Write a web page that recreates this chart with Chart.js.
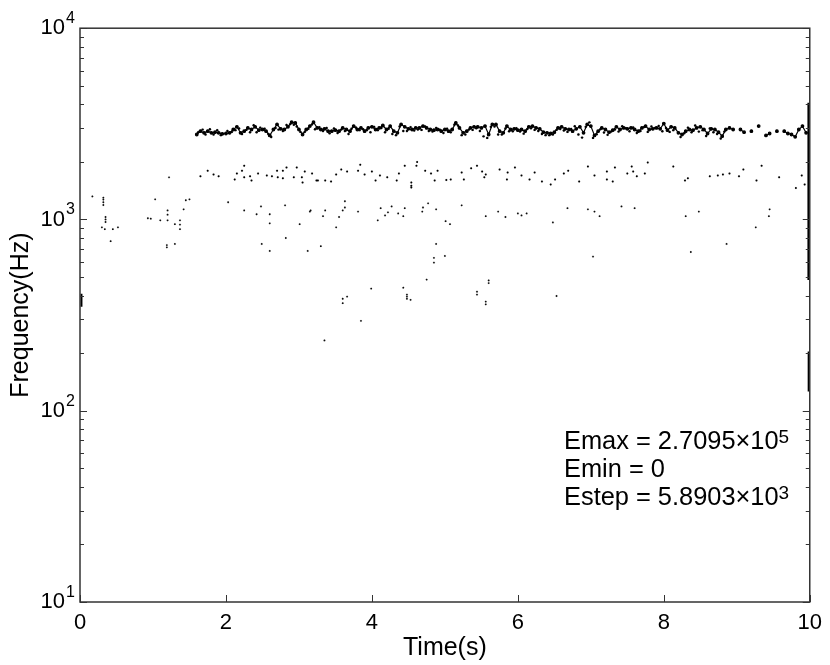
<!DOCTYPE html>
<html>
<head>
<meta charset="utf-8">
<title>Frequency contour</title>
<script src="https://cdn.jsdelivr.net/npm/chart.js@4"></script>
<style>
  body { margin: 0; background: #fff; }
  canvas { display: block; }
</style>
</head>
<body>
<canvas id="chart" width="830" height="665"></canvas>
<script>
const xTicks = [0, 2, 4, 6, 8, 10];
const yTicks = [10, 100, 1000, 10000];
const yExponents = ['1', '2', '3', '4'];
const yMinorTicks = [20, 30, 40, 50, 60, 70, 80, 90, 200, 300, 400, 500, 600, 700, 800, 900, 2000, 3000, 4000, 5000, 6000, 7000, 8000, 9000];

// main band, read every 0.05 s
const bandTimes = [
  1.60, 1.65, 1.70, 1.75, 1.80, 1.85, 1.90, 1.95, 2.00, 2.05, 2.10, 2.15, 2.20, 2.25, 2.30, 2.35, 2.40, 2.45, 2.50, 2.55, 2.60,
  2.65, 2.70, 2.75, 2.80, 2.85, 2.90, 2.95, 3.00, 3.05, 3.10, 3.15, 3.20, 3.25, 3.30, 3.35, 3.40, 3.45, 3.50, 3.55, 3.60, 3.65,
  3.70, 3.75, 3.80, 3.85, 3.90, 3.95, 4.00, 4.05, 4.10, 4.15, 4.20, 4.25, 4.30, 4.35, 4.40, 4.45, 4.50, 4.55, 4.60, 4.65, 4.70, 4.75,
  4.80, 4.85, 4.90, 4.95, 5.00, 5.05, 5.10, 5.15, 5.20, 5.25, 5.30, 5.35, 5.40, 5.45, 5.50, 5.55, 5.60, 5.65, 5.70, 5.75, 5.80, 5.85,
  5.90, 5.95, 6.00, 6.05, 6.10, 6.15, 6.20, 6.25, 6.30, 6.35, 6.40, 6.45, 6.50, 6.55, 6.60, 6.65, 6.70, 6.75, 6.80, 6.85, 6.90, 6.95,
  7.00, 7.05, 7.10, 7.15, 7.20, 7.25, 7.30, 7.35, 7.40, 7.45, 7.50, 7.55, 7.60, 7.65, 7.70, 7.75, 7.80, 7.85, 7.90, 7.95, 8.00, 8.05,
  8.10, 8.15, 8.20, 8.25, 8.30, 8.35, 8.40, 8.45, 8.50, 8.55, 8.60, 8.65, 8.70, 8.75, 8.80, 8.85, 8.90, 8.95, 9.00, 9.05, 9.10, 9.15,
  9.20, 9.25, 9.30, 9.35, 9.40, 9.45, 9.50, 9.55, 9.60, 9.65, 9.70, 9.75, 9.80, 9.85, 9.90, 9.95
];
const bandFreqs = [
  2782, 2895, 2838, 2895, 2838, 2860, 2838, 2805, 2815, 2838, 2953, 3052, 2838, 2895, 3012, 2953, 3052, 2930, 2953, 2895, 2749,
  2953, 3138, 2977, 2953, 3052, 3225, 3198, 2953, 2782, 2953, 3077, 3225, 3012, 2953, 2977, 2895, 2895, 2930, 2895, 3012, 2953,
  2895, 3077, 2953, 3012, 2895, 3012, 3052, 2953, 3012, 3100, 2953, 3077, 2895, 2838, 3138, 3052, 2977, 2953, 3012, 3012, 3077, 3012,
  2953, 2930, 2953, 2895, 2953, 2895, 2953, 3198, 3012, 2838, 2895, 3012, 3052, 3052, 3012, 3077, 2782, 3138, 3138, 2895, 2838, 3077,
  2953, 2977, 2930, 2953, 2895, 3052, 3077, 3012, 2977, 2860, 2838, 2815, 2860, 3012, 3052, 2977, 2953, 2895, 2977, 3052, 2838, 3138,
  3077, 2749, 2895, 3012, 2953, 2860, 2930, 3052, 2953, 3012, 2977, 3012, 2953, 2895, 3012, 3077, 2953, 2977, 3012, 2977, 3174, 2930,
  3052, 3012, 2838, 2782, 2895, 2953, 2930, 3012, 3052, 2953, 2815, 2977, 2953, 2860, 2727, 2953, 3012, 2953, null, 2953, 2860, null,
  2895, null, 3077, null, 2749, 2815, null, 2895, null, 2895, 2815, 2782, 2705, 2953, 3077, 2838
];

// blobs and loose pixels hugging the band
const bandSpecks = [
  [1.62,2860],[1.68,2950],[1.72,2780],[1.78,2960],[1.83,2780],[1.88,2930],[1.93,2760],[2.02,2900],[2.08,2870],[2.13,2930],[2.18,2990],[2.22,2800],
  [2.28,2940],[2.33,2860],[2.38,3110],[2.42,2860],[2.47,3020],[2.53,2980],[2.58,2800],[2.62,2700],[2.68,3010],[2.72,2950],[2.78,2900],[2.83,3120],
  [2.88,3150],[2.93,3130],[2.97,3060],[3.02,2870],[3.08,2870],[3.13,2980],[3.18,3140],[3.22,2960],[3.28,3040],[3.33,2900],[3.38,3010],[3.42,2820],
  [3.48,2990],[3.53,2830],[3.58,2950],[3.63,2900],[3.68,2800],[3.72,2980],[3.78,3030],[3.83,2930],[3.88,2960],[3.93,2930],[3.98,2860],[4.03,3050],
  [4.08,2930],[4.13,3010],[4.18,2860],[4.23,2980],[4.28,2800],[4.33,2760],[4.38,3060],[4.43,2900],[4.48,2900],[4.53,3040],[4.58,2920],[4.63,2950],
  [4.68,2940],[4.73,3060],[4.78,2900],[4.83,2880],[4.88,3010],[4.93,2950],[4.98,2830],[5.03,2980],[5.08,2860],[5.13,3130],[5.18,3100],[5.23,2760],
  [5.28,2780],[5.33,2950],[5.38,2940],[5.43,3000],[5.48,2900],[5.53,2720],[5.58,2670],[5.63,3050],[5.68,3060],[5.73,2780],[5.78,2780],[5.83,2990],
  [5.88,2890],[5.93,2890],[5.98,3000],[6.03,2880],[6.08,2810],[6.13,2970],[6.18,3000],[6.23,2940],[6.28,2900],[6.33,2800],[6.38,2760],[6.43,2760],
  [6.48,2780],[6.53,2940],[6.58,2970],[6.63,2920],[6.68,2870],[6.73,2970],[6.78,3070],[6.83,2780],[6.88,2680],[6.93,3050],[6.98,3220],[7.03,2670],
  [7.08,2790],[7.13,2960],[7.18,2850],[7.23,2770],[7.28,2880],[7.33,2950],[7.38,2880],[7.43,3070],[7.48,3000],[7.53,2890],[7.58,3030],[7.63,2830],
  [7.68,2900],[7.73,3040],[7.78,2870],[7.83,3060],[7.88,3010],[7.93,3080],[7.98,2890],[8.03,3010],[8.08,2870],[8.13,2930],[8.23,2700],[8.28,2820],
  [8.33,3020],[8.38,2860],[8.43,3100],[8.48,2880],[8.53,2930],[8.58,2730],[8.63,2990],[8.68,2860],[8.73,2800],[8.78,2650],[8.83,2880]
];

// scattered specks around 1.7 kHz
const midDots = [
  [1.65,1680],[1.75,1800],[1.83,1720],[1.90,1680],[2.12,1620],[2.15,1740],[2.25,1910],[2.22,1800],[2.25,1660],[2.35,1600],[2.33,1680],
  [2.44,1740],[2.56,1700],[2.63,1680],[2.70,1800],[2.71,1660],[2.78,1800],[2.83,1870],[2.78,1640],[2.97,1870],[2.93,1660],[3.04,1660],
  [3.08,1780],[3.05,1560],[3.18,1740],[3.26,1600],[3.24,1600],[3.36,1600],[3.44,1580],[3.51,1720],[3.58,1825],[3.66,1780],[3.81,1800],
  [3.84,1935],[3.90,1720],[4.00,1780],[4.11,1700],[4.05,1600],[4.21,1660],[4.34,1600],[4.45,1910],[4.37,1740],[4.54,1560],[4.54,1500],
  [4.54,1470],[4.61,1910],[4.62,2000],[4.73,1800],[4.81,1740],[4.90,1800],[4.86,1600],[5.08,1620],[5.02,1610],[5.26,1620],[5.23,1760],
  [5.36,1850],[5.44,1910],[5.51,1780],[5.56,1720],[5.54,1660],[5.75,1825],[5.86,1760],[5.85,1620],[5.96,1870],[6.05,1700],[6.16,1620],
  [6.23,1760],[6.33,1580],[6.45,1525],[6.51,1620],[6.63,1740],[6.69,1800],[6.84,1580],[6.96,1890],[7.05,1700],[7.22,1780],[7.22,1620],
  [7.33,1870],[7.30,1580],[7.50,1740],[7.58,1780],[7.56,1890],[7.63,1680],[7.78,1985],[7.74,1740],[8.13,1890],[8.29,1600],[8.33,1640],
  [8.63,1680],[8.74,1700],[8.81,1720],[8.90,1740],[9.03,1680],[9.09,1825],[9.27,1600],[9.34,1910],[9.58,1660],[9.89,1700],[9.81,1460],[9.93,1525]
];

// specks around 1 kHz and the early part of the signal
const lowerDots = [
  [0.17,1320],[0.32,1300],[0.32,1270],[0.32,1230],[0.32,1190],[0.35,1030],[0.35,1000],[0.35,970],[0.30,910],[0.34,890],[0.45,890],[0.52,910],[0.42,770],
  [0.93,1015],[0.97,1010],[1.03,1275],[1.10,990],[1.20,1115],[1.20,1060],[1.20,990],[1.22,1660],[1.19,735],[1.19,715],[1.30,745],[1.30,945],
  [1.37,990],[1.37,940],[1.37,890],[1.42,1130],[1.45,1260],[1.50,1275],[2.03,1230],[2.25,1115],[2.48,1170],[2.42,1065],[2.60,1065],[2.60,955],
  [2.81,1185],[3.16,1115],[3.01,945],[3.15,1100],[3.36,1115],[3.33,1040],[3.63,1155],[3.63,1245],[3.60,1115],[3.55,1030],[3.81,1100],[4.08,990],
  [4.12,1145],[4.22,1090],[4.18,1050],[4.27,1170],[4.36,1075],[4.45,1145],[4.43,1040],[4.70,1155],[4.77,1215],[4.69,1100],[4.88,1130],[5.23,1185],
  [5.07,945],[5.01,980],[5.56,1040],[5.73,1100],[5.83,1030],[6.00,1075],[6.05,1050],[6.12,1075],[6.48,965],[6.68,1145],[3.51,910],[6.96,1130],
  [7.05,1100],[7.12,1040],[7.42,1170],[7.60,1145],[8.30,1040],[8.48,1100],[9.45,1130],[9.44,1040],[9.26,910]
];

// specks below 800 Hz
const bottomDots = [
  [2.49,745],[2.60,685],[2.82,800],[3.12,685],[3.30,725],[4.88,745],[4.85,630],[4.85,595],[5.00,645],[4.75,485],[3.99,435],[3.60,385],[3.66,395],
  [3.60,365],[4.48,405],[4.48,395],[4.48,385],[4.53,380],[4.43,440],[5.44,419],[5.44,405],[5.56,372],[5.56,360],[5.60,465],[5.60,480],[6.53,398],
  [3.85,295],[3.35,233],[8.86,745],[8.37,676],[7.03,640]
];

// solid strips along the left and right edges
const leftStrip = [[0.02,409],[0.02,350]];
const rightStripTop = [[9.985,4074],[9.985,483]];
const rightStripBottom = [[9.985,204],[9.985,126]];

const noteLines = [
  ['Emax = 2.7095×10', '5'],
  ['Emin = 0', ''],
  ['Estep = 5.8903×10', '3']
];

const fontName = '"Liberation Sans", Arial, sans-serif';

function toPoints(list) {
  return list.map(p => ({ x: p[0], y: p[1] }));
}

function stripDataset(list, width) {
  return {
    type: 'line',
    data: toPoints(list),
    borderColor: '#000',
    borderWidth: width,
    pointRadius: 0
  };
}

const framePlugin = {
  id: 'frame',
  afterDraw(chart) {
    const ctx = chart.ctx;
    const area = chart.chartArea;
    const xs = chart.scales.x;
    const ys = chart.scales.y;
    ctx.save();

    ctx.strokeStyle = '#333';
    ctx.lineWidth = 1.5;
    ctx.strokeRect(area.left, area.top, area.right - area.left, area.bottom - area.top);

    // ticks point inwards
    ctx.lineWidth = 1;
    ctx.beginPath();
    xTicks.forEach(v => {
      const px = Math.round(xs.getPixelForValue(v)) + 0.5;
      ctx.moveTo(px, area.bottom);
      ctx.lineTo(px, area.bottom - 7);
    });
    yTicks.forEach(v => {
      const py = Math.round(ys.getPixelForValue(v)) + 0.5;
      ctx.moveTo(area.left, py);
      ctx.lineTo(area.left + 7, py);
      ctx.moveTo(area.right, py);
      ctx.lineTo(area.right - 7, py);
    });
    yMinorTicks.forEach(v => {
      const py = Math.round(ys.getPixelForValue(v)) + 0.5;
      ctx.moveTo(area.left, py);
      ctx.lineTo(area.left + 4, py);
      ctx.moveTo(area.right, py);
      ctx.lineTo(area.right - 4, py);
    });
    ctx.stroke();

    ctx.fillStyle = '#000';
    ctx.textAlign = 'left';
    ctx.textBaseline = 'alphabetic';

    // exponents of the y tick labels
    ctx.font = '16px ' + fontName;
    yTicks.forEach((v, i) => {
      ctx.fillText(yExponents[i], 66, ys.getPixelForValue(v) - 5);
    });

    // energy note
    noteLines.forEach((line, i) => {
      const base = 449 + i * 28;
      ctx.font = '25.4px ' + fontName;
      ctx.fillText(line[0], 564, base);
      const w = ctx.measureText(line[0]).width;
      ctx.font = '19px ' + fontName;
      ctx.fillText(line[1], 564 + w, base - 6);
    });
    ctx.restore();
  }
};

new Chart(document.getElementById('chart'), {
  type: 'scatter',
  data: {
    datasets: [
      {
        type: 'line',
        data: bandTimes.map((t, i) => ({ x: t, y: bandFreqs[i] })),
        borderColor: '#000',
        backgroundColor: '#000',
        borderWidth: 1.2,
        pointRadius: 1.3,
        spanGaps: false,
        tension: 0
      },
      { data: toPoints(bandSpecks), backgroundColor: '#000', pointRadius: 1.2 },
      { data: toPoints(midDots), backgroundColor: '#000', pointRadius: 1 },
      { data: toPoints(lowerDots), backgroundColor: '#111', pointRadius: 0.9 },
      { data: toPoints(bottomDots), backgroundColor: '#111', pointRadius: 0.9 },
      stripDataset(leftStrip, 2),
      stripDataset(rightStripTop, 2.5),
      stripDataset(rightStripBottom, 2)
    ]
  },
  options: {
    responsive: false,
    animation: false,
    layout: { padding: { top: 25, right: 20, left: 0, bottom: 0 } },
    plugins: { legend: { display: false }, tooltip: { enabled: false } },
    scales: {
      x: {
        type: 'linear',
        min: 0,
        max: 10,
        afterFit(scale) { scale.height = 63; },
        afterBuildTicks(scale) { scale.ticks = xTicks.map(v => ({ value: v })); },
        grid: { display: false, drawTicks: false },
        border: { display: false },
        ticks: {
          color: '#000',
          padding: 8,
          maxRotation: 0,
          autoSkip: false,
          font: { family: fontName, size: 22 }
        },
        title: {
          display: true,
          text: 'Time(s)',
          color: '#000',
          font: { family: fontName, size: 25 },
          padding: { top: 0, bottom: 2 }
        }
      },
      y: {
        type: 'logarithmic',
        min: 10,
        max: 10000,
        afterFit(scale) { scale.width = 80; },
        afterBuildTicks(scale) { scale.ticks = yTicks.map(v => ({ value: v })); },
        grid: { display: false, drawTicks: false },
        border: { display: false },
        ticks: {
          color: '#000',
          padding: 15,
          autoSkip: false,
          font: { family: fontName, size: 22 },
          callback() { return '10'; }
        },
        title: {
          display: true,
          text: 'Frequency(Hz)',
          color: '#000',
          font: { family: fontName, size: 25 },
          padding: { top: 6, bottom: 0 }
        }
      }
    }
  },
  plugins: [framePlugin]
});
</script>
</body>
</html>
